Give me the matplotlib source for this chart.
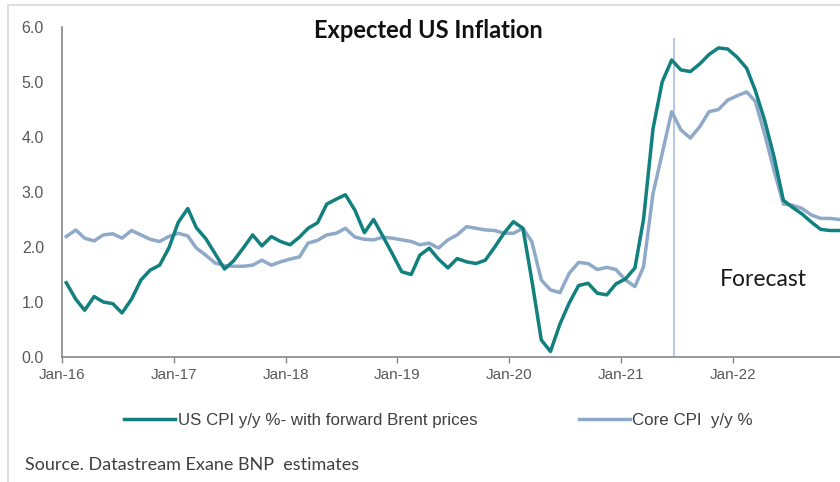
import matplotlib
matplotlib.use("Agg")
import matplotlib.pyplot as plt
import matplotlib.dates as mdates
from matplotlib.patches import Rectangle
import pandas as pd

# monthly observations Jan-16 .. Dec-22 (plotted mid-month)
months = pd.date_range("2016-01-01", "2022-12-01", freq="MS") + pd.Timedelta(days=14)

us_cpi = [1.35, 1.05, 0.85, 1.10, 1.00, 0.97, 0.80, 1.05, 1.40, 1.58, 1.67, 1.98,
          2.45, 2.70, 2.35, 2.15, 1.88, 1.60, 1.75, 1.98, 2.22, 2.02, 2.19, 2.10,
          2.04, 2.18, 2.34, 2.44, 2.78, 2.87, 2.95, 2.67, 2.26, 2.50, 2.19, 1.88,
          1.55, 1.50, 1.85, 1.98, 1.78, 1.62, 1.79, 1.73, 1.70, 1.76, 2.00, 2.25,
          2.46, 2.34, 1.40, 0.31, 0.10, 0.60, 0.98, 1.30, 1.34, 1.16, 1.13, 1.33,
          1.42, 1.62, 2.50, 4.15, 5.00, 5.40, 5.22, 5.19, 5.33, 5.50, 5.62, 5.60,
          5.45, 5.25, 4.85, 4.30, 3.65, 2.85, 2.72, 2.60, 2.45, 2.32, 2.30, 2.30]

core_cpi = [2.19, 2.31, 2.16, 2.11, 2.22, 2.24, 2.16, 2.30, 2.22, 2.14, 2.10, 2.19,
            2.25, 2.20, 1.98, 1.85, 1.71, 1.66, 1.65, 1.65, 1.67, 1.76, 1.67, 1.73,
            1.78, 1.82, 2.07, 2.12, 2.22, 2.25, 2.34, 2.18, 2.14, 2.13, 2.18, 2.16,
            2.13, 2.10, 2.04, 2.07, 1.98, 2.13, 2.22, 2.37, 2.34, 2.31, 2.30, 2.25,
            2.25, 2.34, 2.10, 1.40, 1.22, 1.17, 1.52, 1.72, 1.70, 1.59, 1.63, 1.59,
            1.40, 1.28, 1.64, 2.97, 3.70, 4.46, 4.13, 3.98, 4.19, 4.46, 4.50, 4.67,
            4.75, 4.82, 4.65, 4.05, 3.40, 2.78, 2.76, 2.70, 2.58, 2.52, 2.52, 2.50]

y_ticks = [0.0, 1.0, 2.0, 3.0, 4.0, 5.0, 6.0]
tick_dates = pd.date_range("2016-01-01", "2022-01-01", freq="YS")
forecast_start = pd.Timestamp("2021-06-22")

label_cpi = "US CPI y/y %- with forward Brent prices"
label_core = "Core CPI  y/y %"

green = "#11807f"
blue = "#8fa9c9"
grey = "#595959"

fig = plt.figure(figsize=(8.4, 4.82), dpi=100)
# light frame of the original slide
fig.add_artist(Rectangle((8 / 840, -0.1), 1.0, 1 - 5 / 482 + 0.1, transform=fig.transFigure,
                         fill=False, edgecolor="#d9d9d9", linewidth=1.2))

ax = fig.add_axes([62 / 840, 1 - 357 / 482, 1 - 62 / 840, (357 - 27) / 482])

l1, = ax.plot(months, us_cpi, color=green, linewidth=2.5, solid_joinstyle="round", zorder=3)
l2, = ax.plot(months, core_cpi, color=blue, linewidth=2.5, solid_joinstyle="round", zorder=2)
ax.vlines(forecast_start, 0, 5.8, color="#a9bde6", linewidth=1.2, zorder=1)

ax.set_ylim(0, 6)
ax.set_xlim(pd.Timestamp("2016-01-01"), pd.Timestamp("2022-12-17"))
ax.set_yticks(y_ticks)
ax.set_yticklabels([f"{v:.1f}" for v in y_ticks])
ax.set_xticks(tick_dates)
ax.xaxis.set_major_formatter(mdates.DateFormatter("%b-%y"))

for s in ["top", "right"]:
    ax.spines[s].set_visible(False)
ax.spines["left"].set_color("#868686")
ax.spines["bottom"].set_color("#868686")
ax.spines["left"].set_linewidth(1.2)
ax.spines["bottom"].set_linewidth(1.2)
ax.tick_params(axis="y", length=0, pad=13, labelsize=11.5, labelcolor=grey)
ax.tick_params(axis="x", length=4, width=1, color="#868686", pad=4, labelsize=11, labelcolor=grey)
for t in ax.get_xticklabels() + ax.get_yticklabels():
    t.set_fontfamily("Liberation Sans")

fig.text(428 / 840, 1 - 30 / 482, "Expected US Inflation", ha="center", va="center",
         fontsize=17, fontweight="bold", family="Lato", color="#111111")
fig.text(763 / 840, 1 - 280 / 482, "Forecast", ha="center", va="center",
         fontsize=16.5, family="Lato", color="#1a1a1a")

fig.legend([l1, l2], [label_cpi, label_core], loc="center left",
           bbox_to_anchor=(109 / 840, 1 - 420 / 482), ncol=2, frameon=False,
           handlelength=3.0, handletextpad=0.15, columnspacing=6.0,
           prop={"family": "Liberation Sans", "size": 12.2},
           labelcolor="#404040")

fig.text(25 / 840, 1 - 465 / 482, "Source. Datastream Exane BNP  estimates", ha="left", va="center",
         fontsize=13, family="Lato", color="#404040")

fig.savefig("out.png", dpi=100)
